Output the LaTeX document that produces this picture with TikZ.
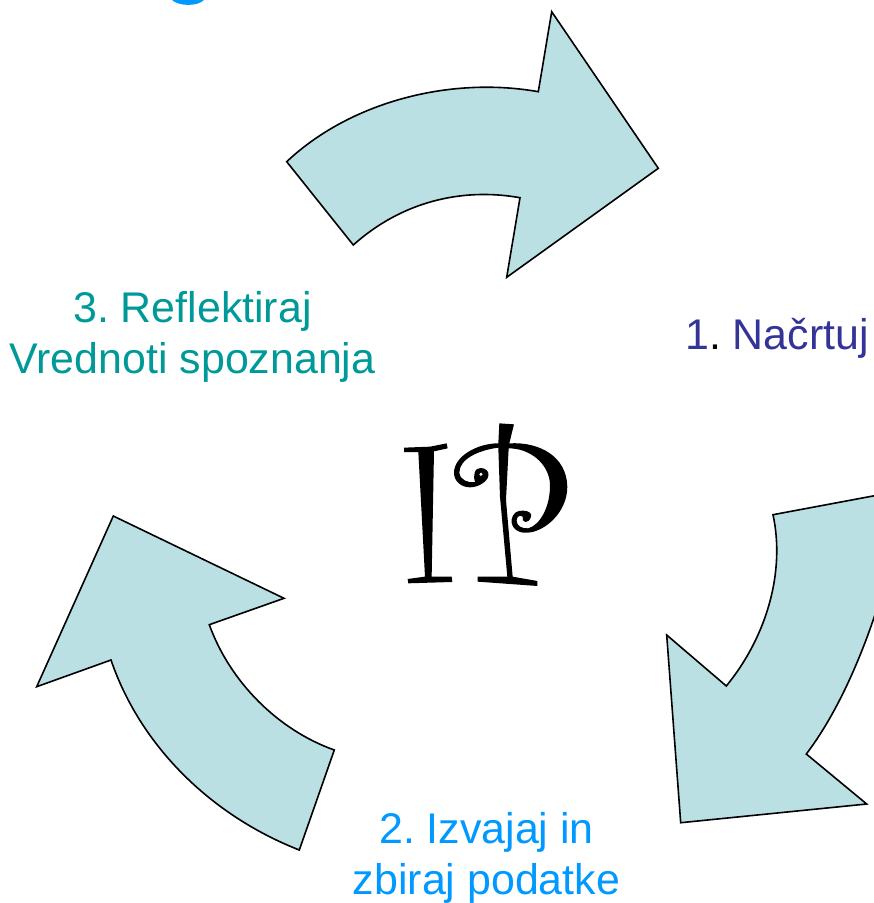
\documentclass[tikz,border=0pt]{standalone}
\usepackage{fontspec}
\setmainfont{Liberation Sans}
\definecolor{arrowfill}{HTML}{BBE0E3}
\definecolor{planblue}{HTML}{333399}
\definecolor{runblue}{HTML}{0099FF}
\definecolor{thinkteal}{HTML}{009999}
\tikzset{
  cyclearrow/.style={draw=black, line width=1.6pt, line join=miter, fill=arrowfill},
  steplabel/.style={align=center, font=\frenchspacing\fontsize{42.9}{51}\selectfont, inner sep=0pt},
  logoink/.style={fill=black}
}
\begin{document}
\begin{tikzpicture}[x=1pt, y=-1pt]
  \clip (0, 0) rectangle (874, 903);

  \fill[runblue] (172, 0) .. controls (178, 6) and (197, 7) .. (204, 0) -- cycle;

  \draw[cyclearrow] (286.7, 161.7) .. controls (350, 102) and (450, 76) .. (538.3, 91.7)
    -- (551.7, 11.7) -- (658.3, 168.3) -- (506.7, 277.3) -- (520, 197.7)
    .. controls (460, 187) and (400, 203) .. (353.3, 245) -- cycle;
  \draw[cyclearrow] (773, 514.7) -- (905, 490)
    .. controls (892, 580) and (855, 690) .. (806.3, 754)
    -- (866.7, 804) -- (680.7, 822.7) -- (666.7, 635) -- (726.3, 686)
    .. controls (768, 635) and (785, 570) .. (773, 514.7) -- cycle;
  \draw[cyclearrow] (113.3, 516) -- (284, 598.3) -- (209.3, 624.7)
    .. controls (230, 682) and (278, 730) .. (334.3, 750)
    -- (299.3, 850)
    .. controls (210, 815) and (140, 745) .. (111, 660)
    -- (36.7, 686.7) -- cycle;

  \node[steplabel, text=thinkteal] (reflect) at (192.5, 337) {3. Reflektiraj\\Vrednoti spoznanja};
  \node[steplabel, text=planblue] (plan) at (777, 338) {1\textcolor{black}{.} Načrtuj};
  \node[steplabel, text=runblue] (run) at (486.5, 858) {2. Izvajaj in\hspace{0.45em}\\zbiraj podatke};

  \begin{scope}[shift={(380, 400)}, x=0.3333pt, y=-0.3333pt]
    \fill[logoink] (72, 143) -- (150, 140) -- (200, 130) -- (203, 145) -- (162, 154)
      -- (155, 530) -- (215, 530) -- (217, 546) -- (85, 550) -- (83, 537) -- (135, 530)
      -- (115, 156) -- (72, 156) -- cycle;
    \fill[logoink] (358, 70) -- (402, 73) -- (388, 130)
      .. controls (480, 125) and (560, 170) .. (562, 260)
      .. controls (562, 340) and (490, 398) .. (440, 398)
      .. controls (415, 400) and (392, 385) .. (395, 358)
      .. controls (398, 340) and (412, 330) .. (430, 332)
      .. controls (445, 332) and (457, 340) .. (453, 350)
      .. controls (450, 362) and (442, 367) .. (436, 366)
      .. controls (430, 366) and (426, 358) .. (428, 350)
      .. controls (420, 343) and (410, 350) .. (410, 362)
      .. controls (410, 378) and (425, 386) .. (445, 385)
      .. controls (480, 375) and (512, 320) .. (510, 250)
      .. controls (505, 190) and (450, 145) .. (386, 145)
      -- (378, 300) -- (398, 530) -- (472, 543) -- (472, 558) -- (293, 545) -- (293, 530)
      -- (382, 530) -- (360, 290) -- (355, 143)
      .. controls (300, 150) and (238, 175) .. (238, 218)
      .. controls (240, 240) and (265, 250) .. (285, 246)
      .. controls (283, 238) and (280, 228) .. (284, 218)
      .. controls (287, 208) and (295, 204) .. (302, 204)
      .. controls (318, 204) and (328, 215) .. (325, 228)
      .. controls (322, 245) and (295, 262) .. (270, 262)
      .. controls (245, 262) and (222, 245) .. (222, 218)
      .. controls (222, 170) and (290, 130) .. (355, 130)
      -- cycle;
    \fill[white] (303, 223) circle (5);
  \end{scope}
\end{tikzpicture}
\end{document}
